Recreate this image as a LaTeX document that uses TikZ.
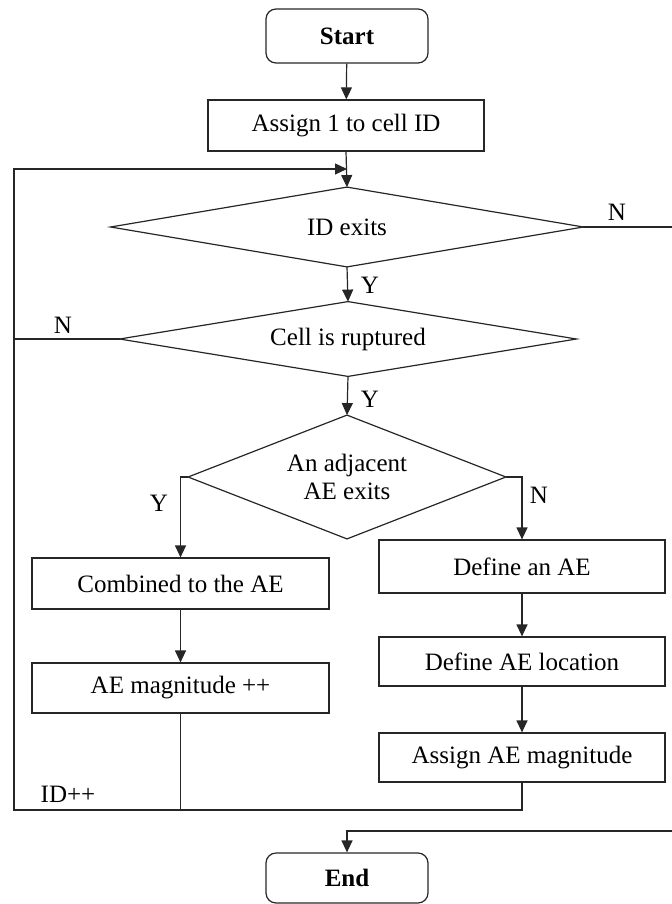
\documentclass[tikz,border=0pt]{standalone}
\usepackage{fontspec}
\setmainfont{Liberation Serif}
\usetikzlibrary{arrows.meta}
\begin{document}
\begin{tikzpicture}[x=0.5pt,y=-0.5pt,
  every node/.style={font=\fontsize{12.5}{14}\selectfont},
  line/.style={draw=black!85, line width=0.6pt},
  arr/.style={line, -{Triangle[length=6pt,width=5.5pt]}},
  box/.style={draw=black!85, line width=0.6pt, rectangle, inner sep=0pt, minimum width=#1},
  term/.style={draw=black!85, line width=0.6pt, rectangle, rounded corners=5pt, inner sep=0pt,
     minimum width=81pt, font=\bfseries\fontsize{12.5}{14}\selectfont},
  dec/.style={rectangle, inner sep=0pt, align=center},
  lbl/.style={inner sep=0pt}]
\useasboundingbox (0,0) rectangle (672,904);
\node[term, minimum height=27pt] (start) at (347,36) {Start};
\node[box=138pt, minimum height=25.5pt] (a1) at (346,125.5) {Assign 1 to cell ID};
\node[dec, minimum width=236pt, minimum height=39.5pt] (d1) at (347,227) {ID exits};
\node[dec, minimum width=228pt, minimum height=37pt] (d2) at (348,339) {Cell is ruptured};
\node[dec, minimum width=158.5pt, minimum height=61.5pt] (d3) at (347,477) {An adjacent\\AE exits};
\foreach \d in {d1,d2,d3}
  \draw[line] (\d.north) -- (\d.east) -- (\d.south) -- (\d.west) -- cycle;
\node[box=148.5pt, minimum height=25.5pt] (comb) at (180.5,583.5) {Combined to the AE};
\node[box=148.5pt, minimum height=25pt] (aemag) at (180.5,688) {AE magnitude ++};
\node[box=143pt, minimum height=26.5pt] (defae) at (522,566.5) {Define an AE};
\node[box=143pt, minimum height=24.5pt] (defloc) at (522,661.5) {Define AE location};
\node[box=143pt, minimum height=24.5pt] (asgmag) at (522,757.5) {Assign AE magnitude};
\node[term, minimum height=25pt] (end) at (347,878) {End};

\coordinate (loopin) at (347,169);
\coordinate (L) at (14,169);
\coordinate (Lb) at (14,810);
\coordinate (Rt) at (690,227);
\coordinate (Rb) at (690,831);

\draw[arr] (start) -- (a1);
\draw[arr] (a1.south) -- (d1.north);
\draw[arr] (d1.south) -- (d2.north);
\draw[arr] (d2.south) -- (d3.north);
\draw[arr] (d3.west) -- (d3.west -| comb.north) -- (comb.north);
\draw[arr] (d3.east) -| (defae.north);
\draw[arr] (comb) -- (aemag);
\draw[arr] (defae) -- (defloc);
\draw[arr] (defloc) -- (asgmag);
\draw[arr] (d2.west) -| (L) -- (loopin);
\draw[line] (asgmag.south) |- (Lb) -- (L);
\draw[line] (aemag.south) -- (aemag.south |- Lb);
\draw[arr] (d1.east) -- (Rt) -- (Rb) -| (end.north);

\node[lbl] (n1) at (617,212) {N};
\node[lbl] (y1) at (370,285) {Y};
\node[lbl] (n2) at (63,325) {N};
\node[lbl] (y2) at (370,399) {Y};
\node[lbl] (y3) at (159,503) {Y};
\node[lbl] (n3) at (539,495) {N};
\node[lbl] (idpp) at (68,794) {ID++};
\end{tikzpicture}
\end{document}
